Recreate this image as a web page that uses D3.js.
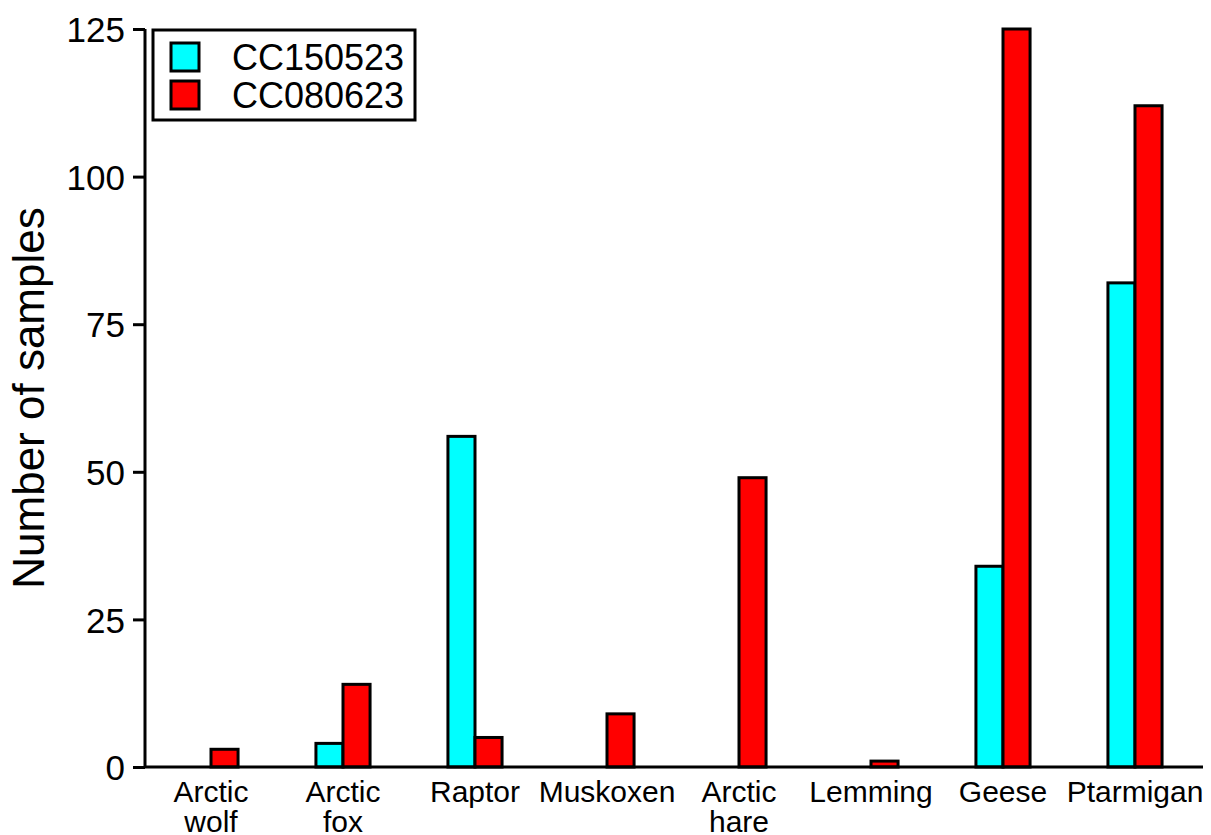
<!DOCTYPE html>
<html>
<head>
<meta charset="utf-8">
<script src="https://cdn.jsdelivr.net/npm/d3@7"></script>
<style>
  body { margin: 0; background: #fff; }
  text { font-family: "Liberation Sans", Arial, sans-serif; fill: #000; }
</style>
</head>
<body>
<svg id="chart" width="1211" height="835"></svg>
<script>
// Data
const categories = [["Arctic", "wolf"], ["Arctic", "fox"], ["Raptor"], ["Muskoxen"],
  ["Arctic", "hare"], ["Lemming"], ["Geese"], ["Ptarmigan"]];
const seriesNames = ["CC150523", "CC080623"];
const cc150523 = [0, 4, 56, 0, 0, 0, 34, 82];
const cc080623 = [3, 14, 5, 9, 49, 1, 125, 112];
const yTicks = [0, 25, 50, 75, 100, 125];
const colors = ["#00ffff", "#ff0000"];

const width = 1211, height = 835;
const margin = { top: 29, right: 8, bottom: 68, left: 145 };

const svg = d3.select("#chart");

const catKeys = categories.map(d => d.join(" "));
const x = d3.scaleBand()
  .domain(catKeys)
  .range([margin.left, 1201])
  .paddingInner(0.59)
  .paddingOuter(0.295);

const xSub = d3.scaleBand()
  .domain(seriesNames)
  .range([0, x.bandwidth()]);

const y = d3.scaleLinear()
  .domain([0, 125])
  .range([height - margin.bottom, margin.top]);

const rows = catKeys.map((k, i) => ({ key: k, values: [cc150523[i], cc080623[i]] }));

// Bars
const groups = svg.append("g")
  .selectAll("g")
  .data(rows)
  .join("g")
  .attr("transform", d => `translate(${x(d.key)},0)`);

groups.selectAll("rect")
  .data(d => d.values.map((v, j) => ({ name: seriesNames[j], v: v, j: j })).filter(e => e.v > 0))
  .join("rect")
  .attr("x", d => xSub(d.name))
  .attr("y", d => y(d.v))
  .attr("width", xSub.bandwidth())
  .attr("height", d => y(0) - y(d.v))
  .attr("fill", d => colors[d.j])
  .attr("stroke", "#000")
  .attr("stroke-width", 3);

// Y axis
const yAxis = svg.append("g")
  .attr("transform", `translate(${margin.left},0)`)
  .call(d3.axisLeft(y).tickValues(yTicks).tickSize(12).tickPadding(8));
yAxis.select(".domain").attr("d", `M0,${y(125)}V${y(0)}`).attr("stroke-width", 3);
yAxis.selectAll(".tick line").attr("stroke-width", 3);
yAxis.selectAll(".tick text").style("font-size", "35px").attr("dy", "0.36em");

// X axis line
svg.append("line")
  .attr("x1", margin.left).attr("x2", 1203)
  .attr("y1", y(0)).attr("y2", y(0))
  .attr("stroke", "#000").attr("stroke-width", 3);

// X labels
const xl = svg.append("g")
  .selectAll("text")
  .data(categories)
  .join("text")
  .attr("text-anchor", "middle")
  .style("font-size", "30px")
  .attr("transform", (d, i) => `translate(${x(catKeys[i]) + x.bandwidth() / 2},802)`);
xl.selectAll("tspan")
  .data(d => d)
  .join("tspan")
  .attr("x", 0)
  .attr("y", (d, i) => i * 30)
  .text(d => d);

// Y title
svg.append("text")
  .attr("transform", `translate(44,${(y(0) + y(125)) / 2}) rotate(-90)`)
  .attr("text-anchor", "middle")
  .style("font-size", "44px")
  .text("Number of samples");

// Legend
const legend = svg.append("g");
legend.append("rect")
  .attr("x", 153).attr("y", 30)
  .attr("width", 262).attr("height", 90)
  .attr("fill", "#fff").attr("stroke", "#000").attr("stroke-width", 3);
const items = legend.selectAll("g.item")
  .data(seriesNames)
  .join("g")
  .attr("class", "item")
  .attr("transform", (d, i) => `translate(171,${43 + i * 38})`);
items.append("rect")
  .attr("width", 28).attr("height", 28)
  .attr("fill", (d, i) => colors[i])
  .attr("stroke", "#000").attr("stroke-width", 3);
items.append("text")
  .attr("x", 61).attr("y", 27)
  .style("font-size", "36px")
  .text(d => d);
</script>
</body>
</html>
